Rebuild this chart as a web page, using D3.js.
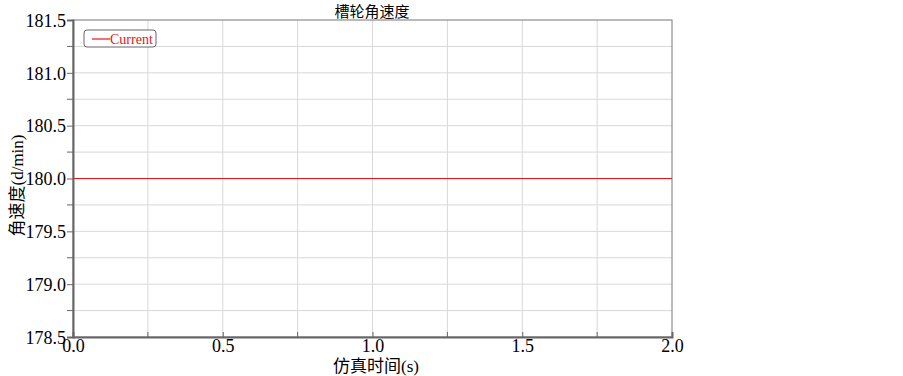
<!DOCTYPE html>
<html>
<head>
<meta charset="utf-8">
<script src="https://cdn.jsdelivr.net/npm/d3@7"></script>
<style>
  body { margin: 0; background: #fff; }
  svg { display: block; }
</style>
</head>
<body>
<div id="chart"></div>
<script>
// chart data
var seriesName = "Current";
var timeValues = [0.0, 2.0];
var speedValues = [180.0, 180.0];
var xTicks = [0.0, 0.5, 1.0, 1.5, 2.0];
var yTicks = [178.5, 179.0, 179.5, 180.0, 180.5, 181.0, 181.5];
var chartTitle = "槽轮角速度";
var xTitle = "仿真时间(s)";
var yTitle = "角速度(d/min)";

var width = 903,
	height = 376,
	margin = { top: 20, right: 231, bottom: 39, left: 73 };

var serif = "'Liberation Serif', 'DejaVu Serif', serif";

var svg = d3.select("#chart")
	.append("svg")
	.attr("width", width)
	.attr("height", height);

var x = d3.scaleLinear().domain([0, 2]).range([margin.left, width - margin.right]);
var y = d3.scaleLinear().domain([178.5, 181.5]).range([height - margin.bottom, margin.top]);

// grid lines, every 0.25
var xGrid = d3.range(0.25, 2, 0.25);
var yGrid = d3.range(178.75, 181.5, 0.25);

svg.append("g").selectAll("line")
	.data(xGrid).enter().append("line")
	.attr("x1", function(d) { return x(d); })
	.attr("x2", function(d) { return x(d); })
	.attr("y1", y.range()[1])
	.attr("y2", y.range()[0])
	.style("stroke", "#d8d8d8")
	.style("stroke-width", 1);

svg.append("g").selectAll("line")
	.data(yGrid).enter().append("line")
	.attr("x1", x.range()[0])
	.attr("x2", x.range()[1])
	.attr("y1", function(d) { return y(d); })
	.attr("y2", function(d) { return y(d); })
	.style("stroke", "#d8d8d8")
	.style("stroke-width", 1);

// frame
svg.append("rect")
	.attr("x", x.range()[0])
	.attr("y", y.range()[1])
	.attr("width", x.range()[1] - x.range()[0])
	.attr("height", y.range()[0] - y.range()[1])
	.style("fill", "none")
	.style("stroke", "#777")
	.style("stroke-width", 1);

// y axis
var yAxis = svg.append("g")
	.attr("transform", "translate(" + x.range()[0] + ",0)")
	.call(d3.axisLeft(y).tickValues(yTicks).tickFormat(d3.format(".1f")).tickSize(6).tickPadding(1));
yAxis.select(".domain").style("stroke", "#666").style("stroke-width", 2);
yAxis.selectAll(".tick line").style("stroke", "#666");
yAxis.selectAll(".tick text")
	.attr("dy", "0.35em")
	.style("font-family", serif)
	.style("font-size", "18px")
	.style("fill", "#000");

// minor y ticks
svg.append("g").selectAll("line")
	.data(d3.range(178.75, 181.5, 0.5)).enter().append("line")
	.attr("x1", x.range()[0] - 6)
	.attr("x2", x.range()[0])
	.attr("y1", function(d) { return y(d); })
	.attr("y2", function(d) { return y(d); })
	.style("stroke", "#666");

// x axis
var xAxis = svg.append("g")
	.attr("transform", "translate(0," + y.range()[0] + ")")
	.call(d3.axisBottom(x).tickValues(xTicks).tickFormat(d3.format(".1f")).tickSize(-5).tickPadding(2));
xAxis.select(".domain").style("stroke", "#666").style("stroke-width", 2);
xAxis.selectAll(".tick line").style("stroke", "#666");
xAxis.selectAll(".tick text")
	.attr("dy", "0.72em")
	.style("font-family", serif)
	.style("font-size", "18px")
	.style("fill", "#000");

// minor x ticks
svg.append("g").selectAll("line")
	.data(d3.range(0.25, 2, 0.5)).enter().append("line")
	.attr("x1", function(d) { return x(d); })
	.attr("x2", function(d) { return x(d); })
	.attr("y1", y.range()[0])
	.attr("y2", y.range()[0] - 5)
	.style("stroke", "#666");

// series line
var line = d3.line()
	.x(function(d, i) { return x(timeValues[i]); })
	.y(function(d) { return y(d); });

svg.append("path")
	.datum(speedValues)
	.attr("d", line)
	.style("fill", "none")
	.style("stroke", "#e8141a")
	.style("stroke-width", 1.2);

// legend
var legend = svg.append("g").attr("transform", "translate(84,30)");
legend.append("rect")
	.attr("width", 72)
	.attr("height", 17)
	.attr("rx", 3)
	.style("fill", "#fff")
	.style("stroke", "#666");
legend.append("line")
	.attr("x1", 8).attr("x2", 26)
	.attr("y1", 9).attr("y2", 9)
	.style("stroke", "#e8141a")
	.style("stroke-width", 1.2);
legend.append("text")
	.attr("x", 26)
	.attr("y", 14)
	.style("font-family", serif)
	.style("font-size", "14px")
	.style("fill", "#e8141a")
	.text(seriesName);

// titles
svg.append("text")
	.attr("x", 372)
	.attr("y", 17)
	.attr("text-anchor", "middle")
	.style("font-family", "'Noto Sans CJK SC', sans-serif")
	.style("font-size", "15px")
	.text(chartTitle);

svg.append("text")
	.attr("x", 376)
	.attr("y", 372)
	.attr("text-anchor", "middle")
	.style("font-family", serif + ", 'Noto Sans CJK SC'")
	.style("font-size", "17px")
	.text(xTitle);

svg.append("text")
	.attr("transform", "translate(23," + (y(180) + 7) + ") rotate(-90)")
	.attr("text-anchor", "middle")
	.style("font-family", serif + ", 'Noto Sans CJK SC'")
	.style("font-size", "17px")
	.text(yTitle);
</script>
</body>
</html>
